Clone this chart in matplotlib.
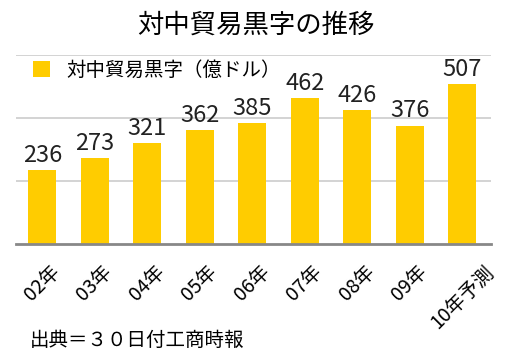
import matplotlib.pyplot as plt

plt.rcParams['font.family'] = ['Noto Sans CJK JP', 'DejaVu Sans']

years = ['02年', '03年', '04年', '05年', '06年', '07年', '08年', '09年', '10年予測']
surplus = [236, 273, 321, 362, 385, 462, 426, 376, 507]

fig = plt.figure(figsize=(5.12, 3.59), dpi=100)
ax = fig.add_axes([16 / 512, 1 - 244 / 359, 475 / 512, 189 / 359])

x = range(len(years))
ax.bar(x, surplus, width=0.53, color='#FFCC00', label='対中貿易黒字（億ドル）', zorder=2)
for i, v in zip(x, surplus):
    ax.text(i, v + 10, str(v), ha='center', va='bottom', fontsize=17, color='#222222')

ax.set_ylim(0, 600)
ax.set_xlim(-0.5, 8.55)
ax.set_yticks([200, 400, 600])
ax.yaxis.grid(True, color='#cccccc', linewidth=1.2, zorder=0)
ax.tick_params(axis='y', left=False, labelleft=False)
ax.tick_params(axis='x', bottom=False, pad=9)
ax.set_xticks(list(x))
ax.set_xticklabels(years, rotation=45, ha='center', fontsize=14)
for s in ['left', 'right', 'top']:
    ax.spines[s].set_visible(False)
ax.spines['bottom'].set_color('#888888')
ax.spines['bottom'].set_linewidth(2)

ax.legend(loc='upper left', frameon=False, fontsize=14, handlelength=0.9, handleheight=0.9,
          handletextpad=0.8, borderaxespad=0.1, bbox_to_anchor=(0.015, 1.025))

fig.text(0.5, 1 - 25 / 359, '対中貿易黒字の推移', ha='center', va='center', fontsize=19)
fig.text(30 / 512, 1 - 340 / 359, '出典＝３０日付工商時報', ha='left', va='center', fontsize=14)

fig.savefig('out.png', dpi=100)
